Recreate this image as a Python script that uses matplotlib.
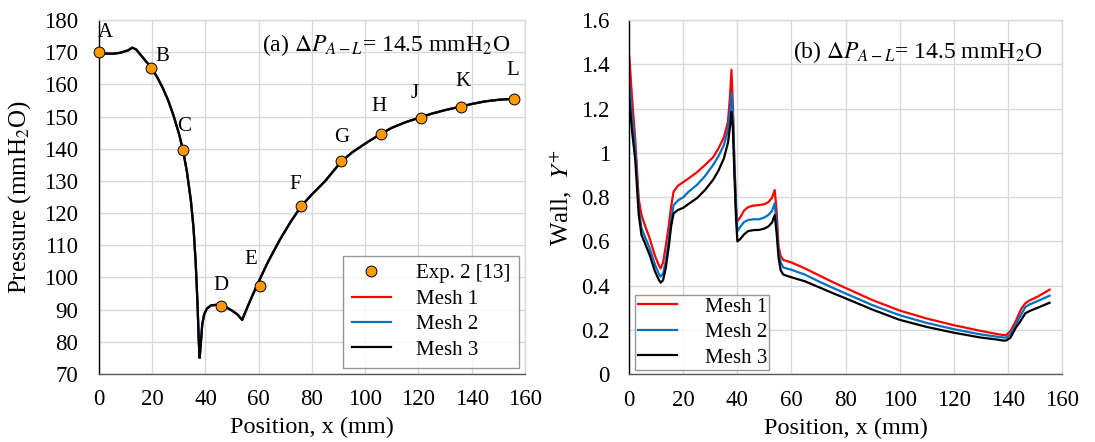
import numpy as np
import matplotlib
matplotlib.use("Agg")
import matplotlib.pyplot as plt
from matplotlib.ticker import FuncFormatter, MultipleLocator

plt.rcParams['font.family'] = ['Liberation Serif', 'DejaVu Serif']
plt.rcParams['mathtext.fontset'] = 'stix'

# ---- (a) pressure along the channel ----
exp_labels = ["A", "B", "C", "D", "E", "F", "G", "H", "J", "K", "L"]
exp_x = [0, 19.6, 31.4, 45.8, 60.6, 75.9, 91.0, 106.1, 120.8, 136.0, 156.0]
exp_p = [170.1, 165.0, 139.6, 91.1, 97.3, 122.2, 136.1, 144.7, 149.6, 153.0, 155.5]

pos_a = [0, 2, 5, 8, 11, 12.5, 14, 16, 18, 20, 22, 24, 26, 28, 30, 31.5, 33,
         34.5, 35.5, 36.3, 37.0, 37.5, 37.8, 38.2, 38.8, 39.5, 40.5, 42, 44,
         46, 48, 50, 52, 53.8, 55, 57, 59, 61, 63, 65, 68, 72, 76, 80, 85,
         91, 95, 100, 106, 110, 115, 121, 125, 130, 136, 140, 145, 150, 155.5]
p_mesh = [170.0, 169.6, 169.5, 169.8, 170.6, 171.4, 170.8, 168.8, 166.8,
          164.8, 162.0, 158.8, 155.0, 150.3, 144.8, 139.8, 133.0, 124.0,
          115.5, 105.0, 92.0, 80.0, 75.0, 79.0, 85.5, 88.5, 90.3, 91.3, 91.5,
          91.2, 90.6, 89.7, 88.5, 86.8, 89.3, 93.2, 96.9, 100.5, 104.0, 107.2,
          111.8, 117.3, 122.2, 125.8, 130.0, 136.0, 138.8, 141.6, 144.7,
          146.5, 148.2, 149.8, 150.9, 152.0, 153.1, 153.9, 154.7, 155.2, 155.5]
# the three meshes coincide in panel (a)
p_mesh1 = p_mesh
p_mesh2 = p_mesh
p_mesh3 = p_mesh

# ---- (b) wall y+ ----
pos_b = [0, 1, 2.2, 3.5, 4.5, 6, 7.5, 9.5, 11, 11.6, 12.5, 13.5, 14.6, 15.5,
         16.4, 18, 20, 22, 25, 28, 31, 33, 35, 36.5, 37.3, 37.8, 38.3, 38.9,
         39.5, 40, 41, 42.5, 44, 46, 48, 50, 51.5, 52.8, 53.8, 54.5, 55.2, 56,
         57, 60, 65, 70, 75, 80, 90, 100, 110, 120, 130, 136, 138.5, 139.5,
         141, 143, 145, 146.5, 148, 151, 155.5]
yplus_mesh1 = [1.435, 1.25, 1.06, 0.79, 0.72, 0.665, 0.615, 0.535, 0.49, 0.478,
               0.505, 0.58, 0.67, 0.76, 0.825, 0.852, 0.868, 0.885, 0.912,
               0.945, 0.98, 1.02, 1.07, 1.14, 1.26, 1.375, 1.22, 0.95, 0.75,
               0.69, 0.708, 0.74, 0.755, 0.762, 0.764, 0.768, 0.778, 0.797,
               0.832, 0.74, 0.58, 0.535, 0.516, 0.505, 0.478, 0.448, 0.418,
               0.39, 0.335, 0.288, 0.252, 0.222, 0.196, 0.182, 0.177, 0.178,
               0.195, 0.24, 0.295, 0.32, 0.333, 0.35, 0.382]
yplus_mesh2 = [1.322, 1.17, 1.028, 0.75, 0.66, 0.615, 0.57, 0.495, 0.452,
               0.441, 0.455, 0.51, 0.606, 0.70, 0.764, 0.785, 0.80, 0.825,
               0.855, 0.895, 0.945, 0.985, 1.035, 1.103, 1.19, 1.27, 1.19, 0.95,
               0.757, 0.645, 0.665, 0.688, 0.697, 0.70, 0.70, 0.708, 0.72,
               0.738, 0.772, 0.68, 0.56, 0.505, 0.482, 0.472, 0.45, 0.42,
               0.392, 0.365, 0.312, 0.267, 0.232, 0.204, 0.18, 0.17, 0.166,
               0.166, 0.18, 0.225, 0.27, 0.303, 0.315, 0.33, 0.355]
yplus_mesh3 = [1.239, 1.1, 0.968, 0.72, 0.63, 0.585, 0.54, 0.465, 0.425, 0.414,
               0.425, 0.48, 0.576, 0.67, 0.727, 0.742, 0.752, 0.77, 0.795,
               0.832, 0.878, 0.92, 0.975, 1.045, 1.12, 1.186, 1.12, 0.9, 0.70,
               0.60, 0.61, 0.632, 0.647, 0.651, 0.652, 0.658, 0.668, 0.685,
               0.719, 0.64, 0.53, 0.47, 0.45, 0.438, 0.42, 0.394, 0.368, 0.343,
               0.292, 0.246, 0.214, 0.188, 0.166, 0.157, 0.152, 0.153, 0.165,
               0.21, 0.245, 0.275, 0.285, 0.3, 0.323]

# label offsets (pixels) for the point letters
lab_off = [(6, 19), (11, 12), (1, 24), (0, 21), (-10, 27), (-6, 22), (0, 24),
           (-3, 27), (-6, 24), (2, 25), (-2, 28)]

RED = "#FF0000"
BLUE = "#0070C0"
ORANGE = "#FF9900"
GRID = "#D9D9D9"
FS_TICK = 16.5
FS_LAB = 17.5
FS_LEG = 15

fig = plt.figure(figsize=(10.95, 4.42), dpi=100)
ax1 = fig.add_axes([0.0904, 0.1538, 0.389, 0.801])
ax2 = fig.add_axes([0.5747, 0.1532, 0.3949, 0.8016])


def style(ax, ypad):
    ax.grid(True, color=GRID, lw=1)
    ax.set_axisbelow(True)
    ax.spines['left'].set_color('black')
    ax.spines['bottom'].set_color('#595959')
    ax.spines['top'].set_color(GRID)
    ax.spines['right'].set_color(GRID)
    for s in ax.spines.values():
        s.set_linewidth(1)
    ax.tick_params(length=0, labelsize=FS_TICK)
    ax.tick_params(axis='y', pad=ypad)
    ax.tick_params(axis='x', pad=11)
    ax.set_xlim(0, 160)
    ax.xaxis.set_major_locator(MultipleLocator(20))
    ax.set_xlabel("Position, x (mm)", fontsize=FS_LAB, labelpad=5)


# panel (a)
l1, = ax1.plot(pos_a, p_mesh1, color=RED, lw=1.6)
l2, = ax1.plot(pos_a, p_mesh2, color=BLUE, lw=1.6)
l3, = ax1.plot(pos_a, p_mesh3, color='black', lw=1.6)
pts, = ax1.plot(exp_x, exp_p, 'o', color=ORANGE, mec='black', mew=0.7,
                ms=7.8, zorder=5, clip_on=False)
for lab, x, y, off in zip(exp_labels, exp_x, exp_p, lab_off):
    ax1.annotate(lab, (x, y), xytext=off, textcoords='offset pixels',
                 ha='center', va='center', fontsize=FS_LEG)
style(ax1, 15)
ax1.set_ylim(70, 180)
ax1.yaxis.set_major_locator(MultipleLocator(10))
ax1.set_ylabel(r"Pressure (mmH$_2$O)", fontsize=FS_LAB + 0.5, labelpad=8)
ax1.text(0.965, 0.93, r"(a) $\Delta P_{A-L}$= 14.5 mmH$_2$O",
         transform=ax1.transAxes, ha='right', va='center', fontsize=17)
leg1 = ax1.legend([pts, l1, l2, l3], ["Exp. 2 [13]", "Mesh 1", "Mesh 2", "Mesh 3"],
                  loc='lower right', bbox_to_anchor=(0.986, 0.017),
                  fontsize=FS_LEG, frameon=True, fancybox=False, edgecolor='#7F7F7F',
                  borderaxespad=0, handlelength=1.9, handletextpad=1.2,
                  labelspacing=0.28, borderpad=0.4)
leg1.get_frame().set_linewidth(1)

# panel (b)
m1, = ax2.plot(pos_b, yplus_mesh1, color=RED, lw=1.6)
m2, = ax2.plot(pos_b, yplus_mesh2, color=BLUE, lw=1.6)
m3, = ax2.plot(pos_b, yplus_mesh3, color='black', lw=1.6)
style(ax2, 14)
ax2.set_ylim(0, 1.6)
ax2.yaxis.set_major_locator(MultipleLocator(0.2))
ax2.yaxis.set_major_formatter(FuncFormatter(lambda v, p: f"{v:g}"))
ax2.set_ylabel(r"Wall,  $Y^{+}$", fontsize=FS_LAB + 0.5, labelpad=5)
ax2.text(0.955, 0.91, r"(b) $\Delta P_{A-L}$= 14.5 mmH$_2$O",
         transform=ax2.transAxes, ha='right', va='center', fontsize=17)
leg2 = ax2.legend([m1, m2, m3], ["Mesh 1", "Mesh 2", "Mesh 3"],
                  loc='lower left', bbox_to_anchor=(0.014, 0.012),
                  fontsize=FS_LEG, frameon=True, fancybox=False, edgecolor='#7F7F7F',
                  borderaxespad=0, handlelength=1.9, handletextpad=1.3,
                  labelspacing=0.28, borderpad=0.12)
leg2.get_frame().set_linewidth(1)

fig.savefig("out.png", dpi=100)
